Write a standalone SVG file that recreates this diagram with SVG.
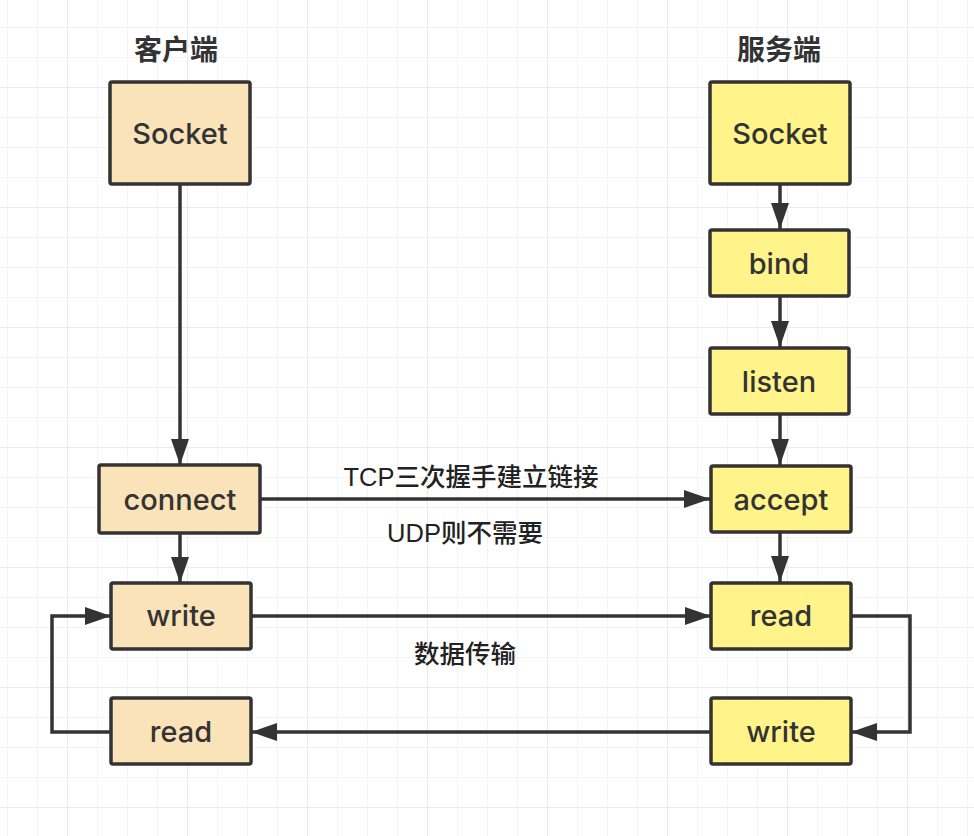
<svg xmlns="http://www.w3.org/2000/svg" width="974" height="836" viewBox="0 0 974 836">
<defs>
<pattern id="gmin" x="7" y="27" width="30" height="30" patternUnits="userSpaceOnUse">
<path d="M0,0 V30 M0,0 H30" fill="none" stroke="#f1f1f1" stroke-width="1.5"/>
</pattern>
<pattern id="gmaj" x="67" y="87" width="120" height="120" patternUnits="userSpaceOnUse">
<path d="M0,0 V120 M0,0 H120" fill="none" stroke="#eaeaea" stroke-width="2"/>
</pattern>
<marker id="arr" markerUnits="userSpaceOnUse" markerWidth="26" markerHeight="18" refX="26" refY="9" orient="auto" viewBox="0 0 26 18">
<path d="M0,0 L26,9 L0,18 Z" fill="#333"/>
</marker>
<style>
.c rect{fill:#fae2b9;stroke:#333;stroke-width:3.5}
.s rect{fill:#fff38a;stroke:#333;stroke-width:3.5}
.n text{font-family:Inter,"Liberation Sans",sans-serif;font-size:29px;font-weight:500;fill:#333;text-anchor:middle}
.t{font-family:"Noto Sans CJK SC",sans-serif;font-size:28px;font-weight:bold;fill:#333;text-anchor:middle}
.l{font-family:"Liberation Sans","Noto Sans CJK SC",sans-serif;font-size:25.5px;font-weight:500;fill:#222;text-anchor:middle}
#edges path{fill:none;stroke:#333;stroke-width:3.5}
</style>
</defs>
<rect width="974" height="836" fill="#ffffff"/>
<rect width="974" height="836" fill="url(#gmin)"/>
<rect width="974" height="836" fill="url(#gmaj)"/>

<text class="t" x="176" y="60">客户端</text>
<text class="t" x="779" y="60">服务端</text>

<g id="edges">
<path d="M180,184 V465" marker-end="url(#arr)"/>
<path d="M180,533 V583" marker-end="url(#arr)"/>
<path d="M261,499 H710" marker-end="url(#arr)"/>
<path d="M251,616 H711" marker-end="url(#arr)"/>
<path d="M851,616 H910 V732 H851" marker-end="url(#arr)"/>
<path d="M711,732 H251" marker-end="url(#arr)"/>
<path d="M111,732 H52 V616 H111" marker-end="url(#arr)"/>
<path d="M780,184 V229" marker-end="url(#arr)"/>
<path d="M780,297 V347" marker-end="url(#arr)"/>
<path d="M780,415 V465" marker-end="url(#arr)"/>
<path d="M780,533 V582" marker-end="url(#arr)"/>
</g>

<text class="l" x="471" y="486">TCP三次握手建立链接</text>
<text class="l" x="465" y="542">UDP则不需要</text>
<text class="l" x="465" y="663">数据传输</text>

<g id="c-socket" class="n c"><rect x="110" y="82" width="140" height="102" rx="2"/><text x="180" y="144">Socket</text></g>
<g id="c-connect" class="n c"><rect x="99" y="465" width="161" height="68" rx="2"/><text x="180" y="510">connect</text></g>
<g id="c-write" class="n c"><rect x="111" y="583" width="140" height="66" rx="2"/><text x="181" y="626">write</text></g>
<g id="c-read" class="n c"><rect x="111" y="698" width="140" height="66" rx="2"/><text x="181" y="742">read</text></g>

<g id="s-socket" class="n s"><rect x="710" y="82" width="140" height="102" rx="2"/><text x="780" y="144">Socket</text></g>
<g id="s-bind" class="n s"><rect x="710" y="230" width="139" height="66" rx="2"/><text x="779" y="274">bind</text></g>
<g id="s-listen" class="n s"><rect x="710" y="348" width="139" height="66" rx="2"/><text x="779" y="392">listen</text></g>
<g id="s-accept" class="n s"><rect x="711" y="466" width="140" height="66" rx="2"/><text x="781" y="510">accept</text></g>
<g id="s-read" class="n s"><rect x="711" y="583" width="140" height="66" rx="2"/><text x="781" y="626">read</text></g>
<g id="s-write" class="n s"><rect x="711" y="698" width="140" height="66" rx="2"/><text x="781" y="742">write</text></g>
</svg>
